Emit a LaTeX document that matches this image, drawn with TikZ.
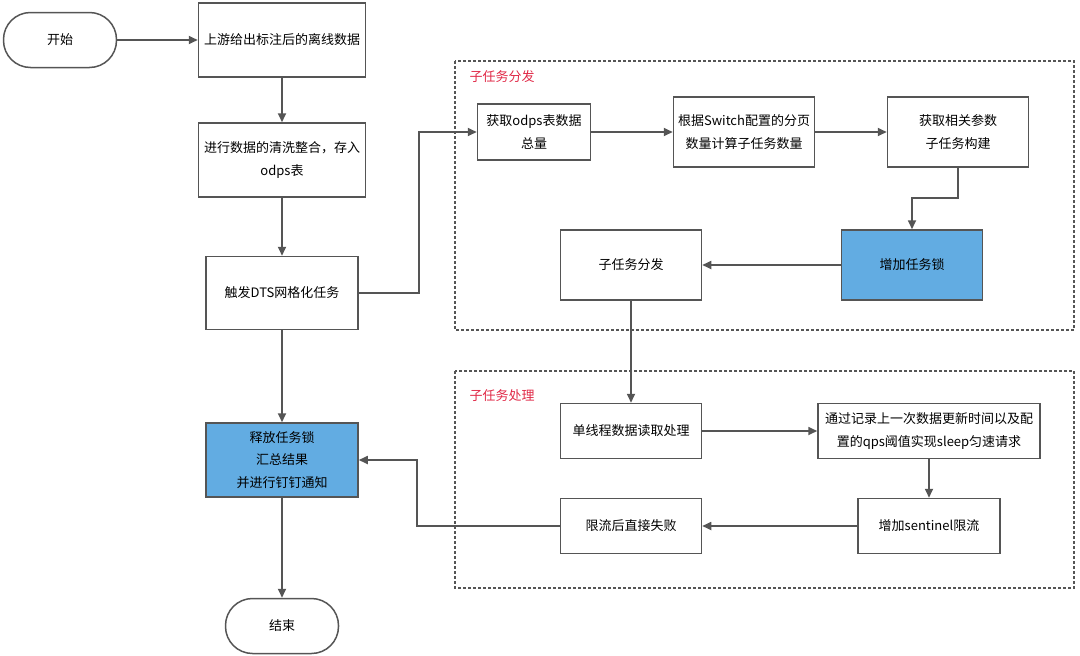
\documentclass[tikz,border=0pt]{standalone}
\usepackage{fontspec}
\usepackage{tikz}
\setmainfont{Noto Sans CJK SC}
\usetikzlibrary{arrows.meta}
\usetikzlibrary{positioning}
\definecolor{linegray}{RGB}{85,85,85}
\definecolor{lockblue}{RGB}{98,172,226}
\definecolor{labelred}{RGB}{224,40,70}
\tikzset{box/.style = {draw = linegray, line width = 1.5pt, fill = white,
                       inner sep = 0pt, align = center,
                       font = \fontsize{13}{22.5}\selectfont},
         lockbox/.style = {box, fill = lockblue},
         terminal/.style = {box, rounded corners = 27pt},
         flow/.style = {draw = linegray, line width = 1.7pt,
                        -{Triangle[length = 9pt, width = 8pt]}},
         frame/.style = {draw = linegray, line width = 1.3pt,
                         dash pattern = on 3pt off 2pt},
         framelabel/.style = {text = labelred, anchor = west,
                              font = \fontsize{13}{15}\selectfont}}

\begin{document}
\begin{tikzpicture}[x = 1pt, y = -1pt]
    \useasboundingbox (0, 0) rectangle (1080, 656);

    % sub task frames
    \draw [frame] (455, 61) rectangle (1074, 330);
    \draw [frame] (455, 371) rectangle (1074, 588);
    \node [framelabel] (dispatchlabel) at (466, 77) {子任务分发};
    \node [framelabel] (handlelabel) at (466, 396) {子任务处理};

    % main line
    \node [terminal, minimum width = 113, minimum height = 55] (start) at (60, 40) {开始};
    \node [box, minimum width = 167, minimum height = 74] (upstream) at (282, 40) {上游给出标注后的离线数据};
    \node [box, minimum width = 167, minimum height = 74] (clean) at (282, 160) {进行数据的清洗整合，存入\\odps表};
    \node [box, minimum width = 152, minimum height = 73] (trigger) at (282, 293) {触发DTS网格化任务};
    \node [lockbox, minimum width = 152, minimum height = 74] (release) at (282, 460) {释放任务锁\\汇总结果\\并进行钉钉通知};
    \node [terminal, minimum width = 113, minimum height = 55] (finish) at (282, 626) {结束};

    % dispatch
    \node [box, minimum width = 113, minimum height = 56] (fetch) at (534, 132) {获取odps表数据\\总量};
    \node [box, minimum width = 141, minimum height = 70] (calc) at (744, 132) {根据Switch配置的分页\\数量计算子任务数量};
    \node [box, minimum width = 141, minimum height = 70] (param) at (958, 132) {获取相关参数\\子任务构建};
    \node [lockbox, minimum width = 141, minimum height = 70] (lock) at (912, 265) {增加任务锁};
    \node [box, minimum width = 141, minimum height = 70] (dispatch) at (631, 265) {子任务分发};

    % handling
    \node [box, minimum width = 141, minimum height = 55] (single) at (631, 431) {单线程数据读取处理};
    \node [box, minimum width = 222, minimum height = 55] (sleep) at (929, 431) {通过记录上一次数据更新时间以及配\\置的qps阈值实现sleep匀速请求};
    \node [box, minimum width = 142, minimum height = 55] (sentinel) at (929, 526) {增加sentinel限流};
    \node [box, minimum width = 141, minimum height = 55] (fail) at (631, 526) {限流后直接失败};

    \draw [flow] (start) -- (upstream);
    \draw [flow] (upstream) -- (clean);
    \draw [flow] (clean) -- (trigger);
    \draw [flow] (trigger.east) -- ++(60, 0) |- (fetch.west);
    \draw [flow] (fetch) -- (calc);
    \draw [flow] (calc) -- (param);
    \draw [flow] (param.south) -- ++(0, 30) -| (lock.north);
    \draw [flow] (lock) -- (dispatch);
    \draw [flow] (dispatch) -- (single);
    \draw [flow] (single) -- (sleep);
    \draw [flow] (sleep) -- (sentinel);
    \draw [flow] (sentinel) -- (fail);
    \draw [flow] (fail.west) -- ++(-143, 0) |- (release.east);
    \draw [flow] (trigger) -- (release);
    \draw [flow] (release) -- (finish);
  \end{tikzpicture}
\end{document}
